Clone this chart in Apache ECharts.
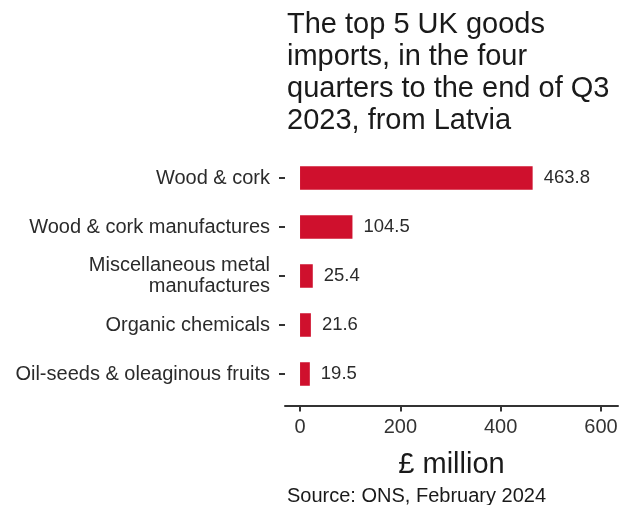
<!DOCTYPE html>
<html>
<head>
<meta charset="utf-8">
<script src="https://cdn.jsdelivr.net/npm/echarts@6/dist/echarts.min.js"></script>
<style>
html,body{margin:0;padding:0;background:#fff;}
#chart{width:630px;height:505px;}
</style>
</head>
<body>
<div id="chart"></div>
<script>
var categories = ["Wood & cork", "Wood & cork manufactures", "Miscellaneous metal\nmanufactures", "Organic chemicals", "Oil-seeds & oleaginous fruits"];
var values = [463.8, 104.5, 25.4, 21.6, 19.5];
var xTicks = [0, 200, 400, 600];
var titleText = "The top 5 UK goods\nimports, in the four\nquarters to the end of Q3\n2023, from Latvia";
var sourceText = "Source: ONS, February 2024";
var axisName = "£ million";

var FONT = "Liberation Sans, Arial, sans-serif";
var chart = echarts.init(document.getElementById('chart'), null, {renderer: 'canvas'});
chart.setOption({
  animation: false,
  backgroundColor: '#ffffff',
  title: [{
    text: titleText,
    left: 287,
    top: 9,
    padding: 0,
    textStyle: {fontFamily: FONT, fontSize: 29, lineHeight: 32, fontWeight: 'normal', color: '#1a1a1a'}
  }, {
    text: sourceText,
    left: 287,
    top: 486,
    padding: 0,
    textStyle: {fontFamily: FONT, fontSize: 20, fontWeight: 'normal', color: '#1a1a1a'}
  }],
  grid: {left: 285, right: 12, top: 153.5, bottom: 106.5, containLabel: false},
  xAxis: {
    type: 'value',
    min: -30,
    max: 634,
    offset: 7,
    name: axisName,
    nameLocation: 'middle',
    nameGap: 45,
    nameTextStyle: {fontFamily: FONT, fontSize: 29, color: '#1a1a1a'},
    splitLine: {show: false},
    axisLine: {show: true, onZero: false, lineStyle: {color: '#333', width: 2}},
    axisTick: {show: true, customValues: xTicks, length: 6, lineStyle: {color: '#333', width: 2}},
    axisLabel: {customValues: xTicks, fontFamily: FONT, fontSize: 20, color: '#333', margin: 12}
  },
  yAxis: {
    type: 'category',
    data: categories,
    inverse: true,
    axisLine: {show: false, onZero: false},
    axisTick: {show: true, alignWithLabel: true, length: 6, lineStyle: {color: '#333', width: 2}},
    axisLabel: {fontFamily: FONT, fontSize: 20, lineHeight: 21, color: '#2b2b2b', margin: 15, align: 'right'}
  },
  series: [{
    type: 'bar',
    data: values,
    barWidth: '48%',
    itemStyle: {color: '#cf102d'},
    label: {
      show: true,
      position: 'right',
      distance: 11,
      fontFamily: FONT,
      fontSize: 18.5,
      color: '#2b2b2b',
      formatter: function (p) { return p.value.toFixed(1); }
    }
  }]
});
</script>
</body>
</html>
